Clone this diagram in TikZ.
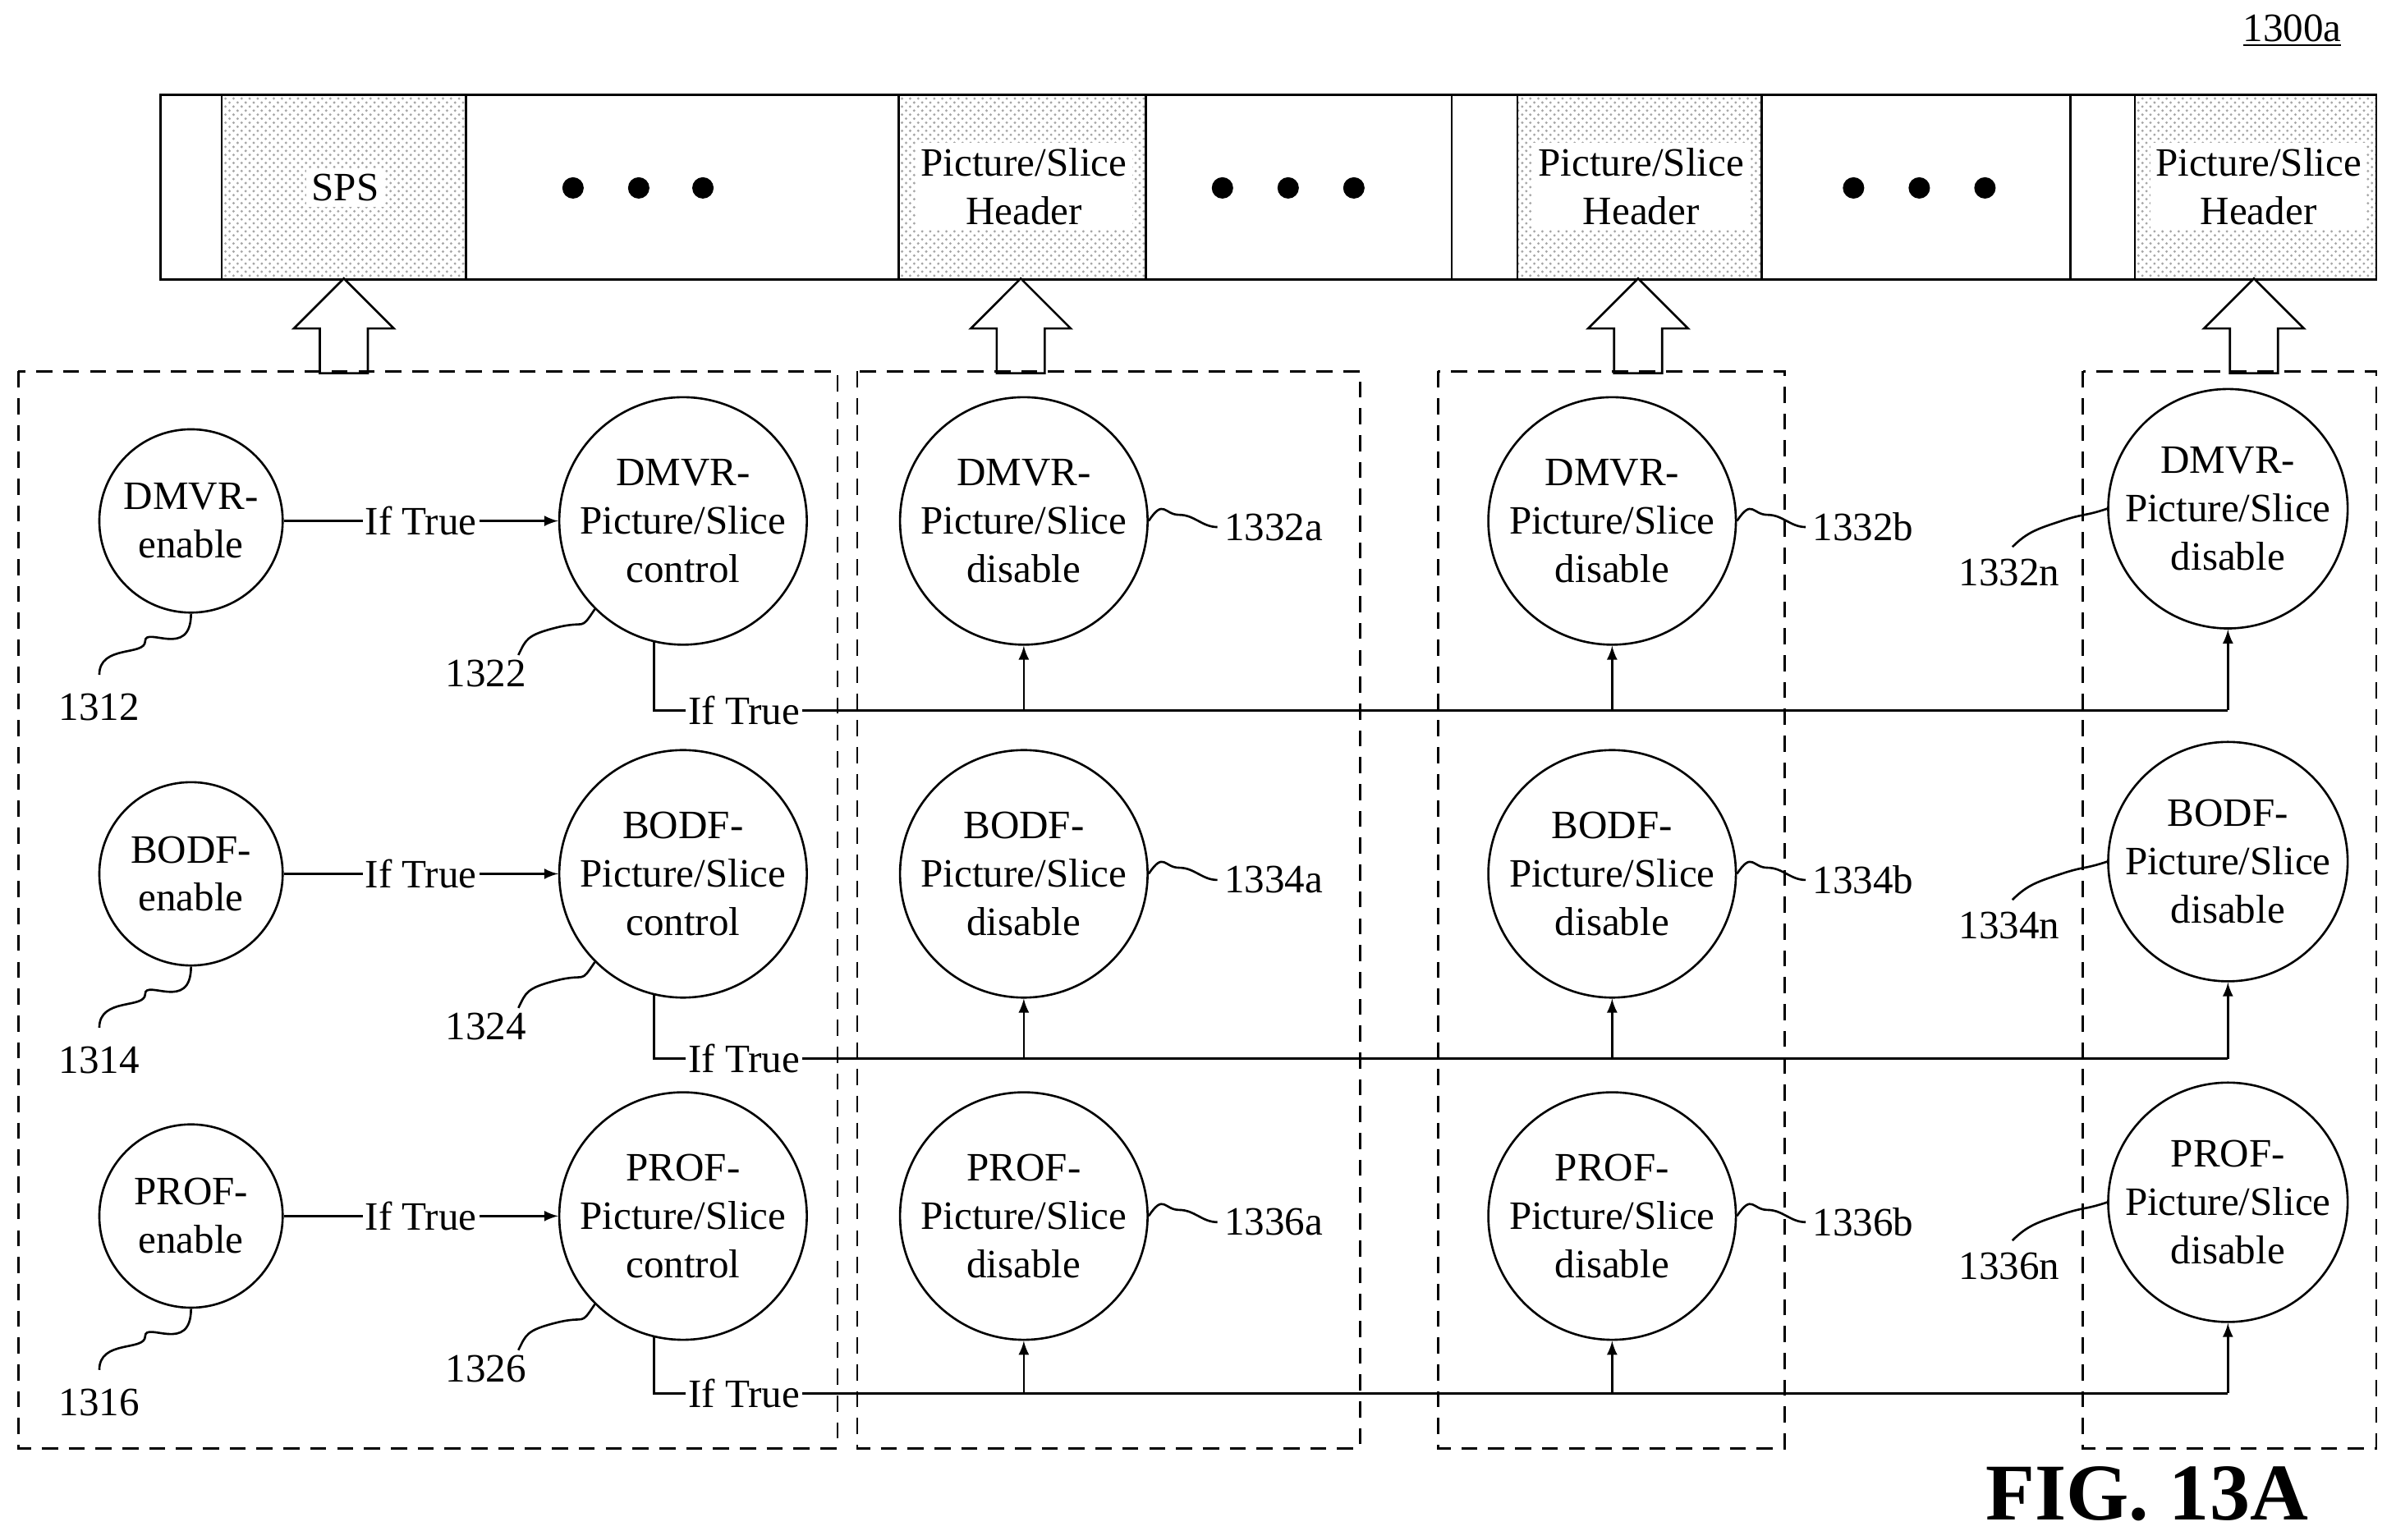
\documentclass[tikz,border=0pt]{standalone}
\usepackage{fontspec}
\setmainfont{Liberation Serif}
\usetikzlibrary{patterns}
\usetikzlibrary{calc}
\usetikzlibrary{shapes.arrows}

\tikzset{
  txt/.style={font=\fontsize{15}{18}\selectfont, align=center},
  small/.style={circle, draw, thick, minimum size=120*0.02cm, inner sep=0pt, txt},
  big/.style={circle, draw, thick, minimum size=162*0.02cm, inner sep=0pt, txt},
  grp/.style={draw, thick, dashed, dash pattern=on 6pt off 4pt},
  flow/.style={thick,-latex},
  wig/.style={thick},
  hdr/.style={thick, pattern=crosshatch dots, pattern color=gray!70},
  up/.style={single arrow, draw, thick, shape border rotate=90, minimum width=64*0.02cm,
    single arrow head extend=17*0.02cm, single arrow head indent=0pt, minimum height=62*0.02cm, inner sep=15*0.02cm, fill=white}
}

\begin{document}
\begin{tikzpicture}[x=0.02cm,y=-0.02cm]
  \useasboundingbox (0,0) rectangle (1568,1008);

  % bitstream
  \draw[thick] (105,62) rectangle (1555,183);
  \foreach \a/\b in {145/305,588/750,993/1153,1397/1555}
    \draw[hdr] (\a,62) rectangle (\b,183);
  \draw[thick] (950,62)--(950,183);
  \draw[thick] (1355,62)--(1355,183);
  \node[txt, fill=white, inner sep=2pt] (sps) at (226,123) {SPS};
  \foreach \c/\n in {670/ha,1074/hb,1478/hn}
    \node[txt, fill=white, inner sep=2pt] (\n) at (\c,122) {Picture/Slice\\Header};
  \foreach \c in {375,418,460,800,843,886,1213,1256,1299}
    \fill (\c,123) circle (7);
  \node[txt] (tag) at (1500,20) {\underline{1300a}};

  % hollow arrows
  \foreach \c in {225,668,1072,1475}
    \node[up, anchor=south] at (\c,245) {};

  % dashed groups
  \draw[grp] (12,243) rectangle (548,948);
  \draw[grp] (561,243) rectangle (890,948);
  \draw[grp] (941,243) rectangle (1168,948);
  \draw[grp] (1363,243) rectangle (1555,948);

  % rows
  \foreach \t/\ye/\yd/\yn/\yl/\e/\c/\da/\db/\dn in
    {DMVR/341/341/333/465/1312/1322/1332a/1332b/1332n,
     BODF/572/572/564/693/1314/1324/1334a/1334b/1334n,
     PROF/796/796/787/912/1316/1326/1336a/1336b/1336n}{
    \node[small] (en\t) at (125,\ye) {\t-\\enable};
    \node[big] (ct\t) at (447,\yd) {\t-\\Picture/Slice\\control};
    \node[big] (da\t) at (670,\yd) {\t-\\Picture/Slice\\disable};
    \node[big] (db\t) at (1055,\yd) {\t-\\Picture/Slice\\disable};
    \node[big, minimum size=156*0.02cm] (dn\t) at (1458,\yn) {\t-\\Picture/Slice\\disable};
    \draw[flow] (en\t.east) -- node[txt, fill=white, inner sep=1pt] {If True} (en\t.east -| ct\t.west);
    \coordinate (s\t) at ($(ct\t.south)+(-19,-3)$);
    \draw[thick] (s\t) |- (487,\yl) node[txt, fill=white, inner sep=1pt] {If True} -- (1458,\yl);
    \draw[flow] (da\t.south |- 0,\yl) -- (da\t.south);
    \draw[flow] (db\t.south |- 0,\yl) -- (db\t.south);
    \draw[flow] (dn\t.south |- 0,\yl) -- (dn\t.south);
    % reference numerals
    \node[txt] (le\t) at (65,\ye+122) {\e};
    \draw[wig] (en\t.south) .. controls +(0,30) and +(0,-10) .. ($(en\t.south)+(-30,18)$)
      .. controls +(0,10) and +(0,-20) .. ($(en\t.south)+(-60,40)$);
    \node[txt] (lc\t) at (318,\yd+100) {\c};
    \draw[wig] (ct\t.south west) .. controls +(-10,15) and +(20,-5) .. ($(ct\t.south west)+(-25,12)$)
      .. controls +(-20,5) and +(5,-10) .. ($(ct\t.south west)+(-50,30)$);
    \node[txt, anchor=west] (la\t) at (795,\yd+4) {\da};
    \draw[wig] (da\t.east) .. controls +(10,-15) and +(-10,0) .. ($(da\t.east)+(20,-4)$)
      .. controls +(10,0) and +(-10,0) .. ($(da\t.east)+(45,4)$);
    \node[txt, anchor=west] (lb\t) at (1180,\yd+4) {\db};
    \draw[wig] (db\t.east) .. controls +(10,-15) and +(-10,0) .. ($(db\t.east)+(20,-4)$)
      .. controls +(10,0) and +(-10,0) .. ($(db\t.east)+(45,4)$);
    \node[txt] (ln\t) at (1315,\yn+42) {\dn};
    \draw[wig] (dn\t.west) .. controls +(-15,5) and +(15,-5) .. ($(dn\t.west)+(-30,8)$)
      .. controls +(-15,5) and +(10,-10) .. ($(dn\t.west)+(-62,25)$);
  }

  \node[font=\bfseries\fontsize{30}{34}\selectfont] (fig) at (1405,978) {FIG. 13A};
\end{tikzpicture}
\end{document}
